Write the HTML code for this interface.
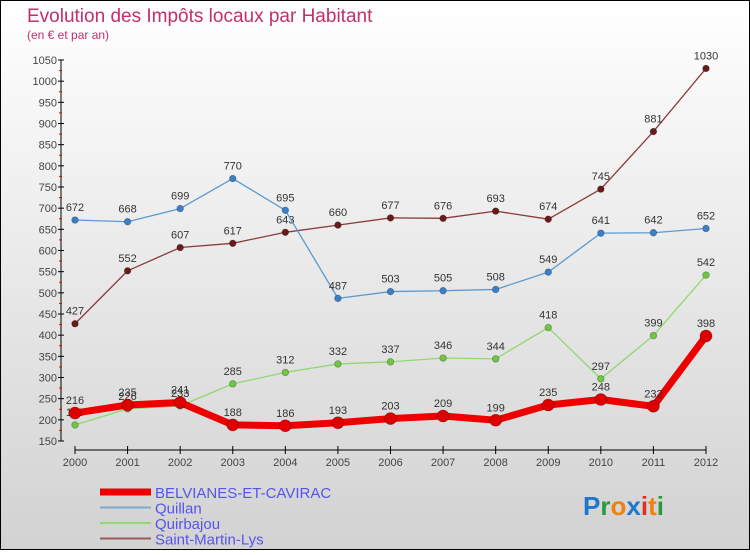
<!DOCTYPE html>
<html><head><meta charset="utf-8"><style>
html,body{margin:0;padding:0}
body{width:750px;height:550px;overflow:hidden;font-family:"Liberation Sans",sans-serif}
</style></head><body>
<svg id="chart" width="750" height="550" xmlns="http://www.w3.org/2000/svg">
<defs><linearGradient id="bg" x1="0" y1="0" x2="0" y2="1"><stop offset="0" stop-color="#ffffff"/><stop offset="1" stop-color="#d2d2d2"/></linearGradient></defs>
<rect x="0.5" y="0.5" width="749" height="549" fill="url(#bg)" stroke="#000"/>
<text x="27" y="22" font-size="19" fill="#c0306a">Evolution des Impôts locaux par Habitant</text>
<text x="27" y="39" font-size="12" fill="#c0306a">(en € et par an)</text>
<g id="axes"></g>
<g id="series"></g>
<g id="legend"></g>
<text x="583" y="515" font-size="26" font-weight="bold"><tspan fill="#1a78d0">P</tspan><tspan fill="#2a9a3a">r</tspan><tspan fill="#f08010">o</tspan><tspan fill="#1a78d0">x</tspan><tspan fill="#e03020">i</tspan><tspan fill="#f08010">t</tspan><tspan fill="#2a9a3a">i</tspan></text>
</svg>
<script>
const years=["2000","2001","2002","2003","2004","2005","2006","2007","2008","2009","2010","2011","2012"];
const belvianes=[216,235,241,188,186,193,203,209,199,235,248,232,398];
const quillan=[672,668,699,770,695,487,503,505,508,549,641,642,652];
const quirbajou=[188,226,233,285,312,332,337,346,344,418,297,399,542];
const saintMartin=[427,552,607,617,643,660,677,676,693,674,745,881,1030];
const yTicks=[150,200,250,300,350,400,450,500,550,600,650,700,750,800,850,900,950,1000,1050];
const NS="http://www.w3.org/2000/svg";
function X(i){return 75+i*(706-75)/(years.length-1);}
function Y(v){return 441-(v-150)*(441-60)/900;}
function mk(tag,attrs,parent){const e=document.createElementNS(NS,tag);for(const k in attrs)e.setAttribute(k,attrs[k]);parent.appendChild(e);return e;}
const axes=document.getElementById('axes');
let yl=mk('line',{x1:61,y1:60,x2:61,y2:441,stroke:'#000'},axes);


yTicks.forEach((t,k)=>{
 const y=Y(t);
 mk('line',{x1:58,y1:y,x2:64,y2:y,stroke:'#000'},axes);
 if(k<yTicks.length-1){mk('line',{x1:59,y1:Y(t+25),x2:62,y2:Y(t+25),stroke:'#e00'},axes);}
 const tx=mk('text',{x:57,y:y+4,'font-size':11,fill:'#444','text-anchor':'end'},axes);
 tx.textContent=t;
 
 
});
let xl=mk('line',{x1:75,y1:450,x2:706,y2:450,stroke:'#000'},axes);


years.forEach((yr,i)=>{
 mk('line',{x1:X(i),y1:446,x2:X(i),y2:454,stroke:'#000'},axes);
 const tx=mk('text',{x:X(i),y:466,'font-size':11,fill:'#444','text-anchor':'middle'},axes);
 tx.textContent=yr;
 
 
});
const sg=document.getElementById('series');
function draw(vals,color,w,r,name,dot){
 const g=mk('g',{},sg);
 
 
 const p=mk('polyline',{points:vals.map((v,i)=>X(i)+','+Y(v)).join(' '),fill:'none',stroke:color,'stroke-width':w,'stroke-linejoin':'round'},g);
 
 
 vals.forEach((v,i)=>{
  const c=mk('circle',{cx:X(i),cy:Y(v),r:r,fill:dot,stroke:'rgba(0,0,0,0.3)','stroke-width':0.8},g);
  
  
  const t=mk('text',{x:X(i),y:Y(v)-9,'font-size':11,fill:'#333','text-anchor':'middle'},g);
  t.textContent=v;
  
  
 });
}
draw(saintMartin,'#8b3a3a',1.3,3.3,'saint-martin-lys','#6a1a1a');
draw(quillan,'#5a9ad0',1.3,3.3,'quillan','#3a80c8');
draw(quirbajou,'#90d870',1.3,3.3,'quirbajou','#70c840');
draw(belvianes,'#ee0000',7,6,'belvianes-et-cavirac','#dd0000');
const lg=document.getElementById('legend');
const items=[["BELVIANES-ET-CAVIRAC","#ee0000",7],["Quillan","#7aaad0",2],["Quirbajou","#90d870",2],["Saint-Martin-Lys","#9a5a5a",2]];
items.forEach((it,k)=>{
 const y=492+k*15.5;
 const g=mk('g',{},lg);
 
 
 mk('line',{x1:100,y1:y,x2:151,y2:y,stroke:it[1],'stroke-width':it[2]},g);
 const t=mk('text',{x:155,y:y+6,'font-size':15,fill:'#5555ee'},g);
 t.textContent=it[0];
});
</script>
</body></html>
